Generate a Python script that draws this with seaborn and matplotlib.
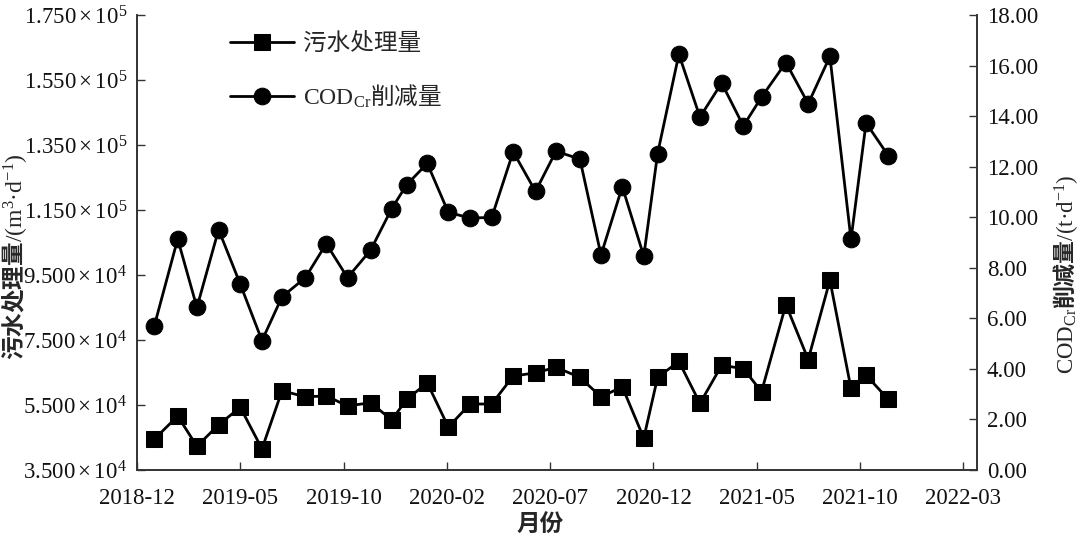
import numpy as np
import pandas as pd
import matplotlib
matplotlib.use("Agg")
import matplotlib.pyplot as plt
import seaborn as sns
from matplotlib.ticker import FixedLocator, FuncFormatter

# ---- data ----
# x position of each monthly sample, in months after the 2018-12 tick
month_pos = [0.84, 1.97, 2.90, 3.95, 5.00, 6.05, 7.02, 8.15, 9.16, 10.19,
             11.31, 12.33, 13.05, 14.05, 15.07, 16.12, 17.17, 18.21, 19.29, 20.28,
             21.44, 22.46, 23.49, 24.53, 25.20, 26.23, 27.25, 28.30, 29.35, 30.23,
             31.41, 32.49, 33.54, 34.56, 35.29, 36.37]
sewage = [44500, 51600, 42300, 48900, 54300, 41500, 59400, 57500, 57800, 54700,
          55700, 50400, 56700, 61800, 48200, 55300, 55300, 63900, 64900, 66600,
          63500, 57500, 60600, 44800, 63500, 68400, 55500, 67200, 66200, 59100,
          85900, 69000, 93400, 60100, 64200, 56700]
cod = [5.71, 9.14, 6.43, 9.51, 7.35, 5.12, 6.85, 7.61, 8.95, 7.61,
       8.70, 10.34, 11.28, 12.13, 10.19, 9.97, 9.99, 12.59, 11.02, 12.61,
       12.30, 8.50, 11.21, 8.46, 12.52, 16.45, 13.96, 15.31, 13.61, 14.75,
       16.12, 14.49, 16.36, 9.12, 13.73, 12.43]
x_tick_pos = [0, 5, 10, 15, 20, 25, 30, 35, 40]
x_tick_labels = ["2018-12", "2019-05", "2019-10", "2020-02", "2020-07",
                 "2020-12", "2021-05", "2021-10", "2022-03"]
left_ticks = [35000, 55000, 75000, 95000, 115000, 135000, 155000, 175000]
right_ticks = [0, 2, 4, 6, 8, 10, 12, 14, 16, 18]
series_names = ["污水处理量", "$\\mathrm{COD_{Cr}}$削减量"]

# ---- style ----
sns.set_theme(style="ticks")
plt.rcParams["font.family"] = ["Liberation Serif", "Noto Sans CJK SC", "DejaVu Serif"]
plt.rcParams["mathtext.fontset"] = "custom"
plt.rcParams["mathtext.rm"] = "Liberation Serif"
plt.rcParams["mathtext.it"] = "Liberation Serif:italic"
plt.rcParams["mathtext.bf"] = "Liberation Serif:bold"
plt.rcParams["axes.unicode_minus"] = True

cjk = "Noto Sans CJK SC"
spine_col = "#333333"
fs = 16.5

fig = plt.figure(figsize=(10.8, 5.44), dpi=100)
ax = fig.add_axes([137 / 1080, 1 - 470 / 544, 840 / 1080, 455 / 544])
ax2 = ax.twinx()

df = pd.DataFrame({"x": month_pos, "sewage": sewage, "cod": cod})
sns.lineplot(data=df, x="x", y="sewage", ax=ax, color="black", marker="s",
             markersize=11, linewidth=2, markeredgecolor="black",
             label=series_names[0], legend=False)
sns.lineplot(data=df, x="x", y="cod", ax=ax2, color="black", marker="o",
             markersize=12, linewidth=2, markeredgecolor="black",
             label=series_names[1], legend=False)

# axes limits / ticks
ax.set_xlim(0, 40.66)
ax.set_ylim(35000, 175000)
ax2.set_ylim(0, 18)
ax.xaxis.set_major_locator(FixedLocator(x_tick_pos))
ax.set_xticklabels(x_tick_labels)
ax.yaxis.set_major_locator(FixedLocator(left_ticks))


def sci_fmt(v, pos):
    e = int(np.floor(np.log10(v)))
    m = v / 10 ** e
    return "$\\mathrm{%.3f\\times10^{%d}}$" % (m, e)


ax.yaxis.set_major_formatter(FuncFormatter(sci_fmt))
ax2.yaxis.set_major_locator(FixedLocator(right_ticks))
ax2.yaxis.set_major_formatter(FuncFormatter(lambda v, p: "%.2f" % v))

for a in (ax, ax2):
    a.spines["top"].set_visible(False)
    for s in ("left", "right", "bottom"):
        a.spines[s].set_color(spine_col)
        a.spines[s].set_linewidth(1.2)
    a.tick_params(direction="in", length=6, width=1, color=spine_col,
                  labelsize=fs, labelcolor="#111111")
ax.tick_params(axis="x", pad=13)
ax.tick_params(axis="y", pad=7)
ax2.tick_params(axis="y", pad=7)
ax.minorticks_off()
ax2.minorticks_off()

ax.set_xlabel("月份", fontsize=17, fontweight="bold", fontfamily=cjk)
ax.xaxis.set_label_coords(0.48, -0.095)
ax.set_ylabel("污水处理量$\\mathrm{/(m^{3}·d^{-1})}$", fontsize=17,
              fontfamily=cjk, fontweight="bold")
ax.yaxis.set_label_coords(-0.128, 0.47)
ax2.set_ylabel("$\\mathrm{COD_{Cr}}$削减量$\\mathrm{/(t·d^{-1})}$", fontsize=16.5,
               fontfamily=cjk, fontweight="bold")
ax2.yaxis.set_label_coords(1.088, 0.43)

h1 = ax.get_lines()[:1]
h2 = ax2.get_lines()[:1]
ax2.legend(h1 + h2, series_names, loc="upper left",
           bbox_to_anchor=(0.111, 0.962), frameon=False,
           prop={"family": cjk, "size": 17},
           handlelength=2.7, handletextpad=0.4, labelspacing=1.15,
           borderpad=0, borderaxespad=0)

fig.savefig("out.png", dpi=100)
